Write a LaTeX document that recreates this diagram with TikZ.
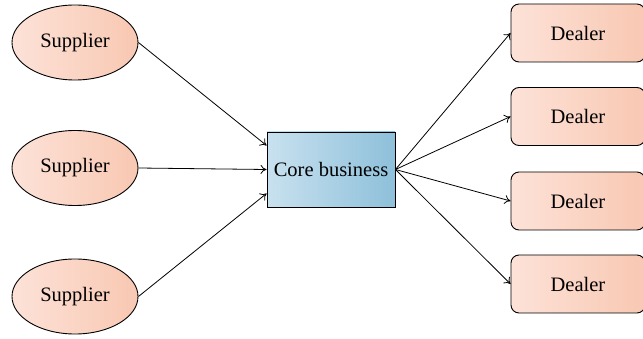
\documentclass[tikz,border=0pt]{standalone}
\usepackage{fontspec}
\setmainfont{Liberation Serif}
\usetikzlibrary{arrows.meta,shapes.geometric}
\definecolor{peachL}{HTML}{FDE2D8}
\definecolor{peachR}{HTML}{F8C8B2}
\definecolor{blueL}{HTML}{C8E1EF}
\definecolor{blueR}{HTML}{8EC0DA}
\tikzset{
  label font/.style={font=\fontsize{20.5}{24}\selectfont},
  supplier/.style={ellipse, draw=black, line width=0.9pt, left color=peachL, right color=peachR,
    minimum width=126pt, minimum height=75pt, inner sep=0pt, label font},
  core/.style={rectangle, draw=black, line width=0.9pt, left color=blueL, right color=blueR,
    minimum width=128pt, minimum height=75pt, inner sep=0pt, label font},
  dealer/.style={rectangle, rounded corners=8pt, draw=black, line width=0.9pt, left color=peachL, right color=peachR,
    minimum width=134pt, minimum height=58pt, inner sep=0pt, label font},
  link/.style={line width=0.8pt, -{To[length=6pt,width=9pt]}}
}
\begin{document}
\begin{tikzpicture}[x=1pt,y=-1pt]
\useasboundingbox (0,0) rectangle (643,339);
\node[supplier] (s1) at (75,42.5) {Supplier};
\node[supplier] (s2) at (75,168) {Supplier};
\node[supplier] (s3) at (75,296.5) {Supplier};
\node[core] (core) at (331,169.5) {Core business};
\node[dealer] (d1) at (578,33) {Dealer};
\node[dealer] (d2) at (578,116.5) {Dealer};
\node[dealer] (d3) at (578,201) {Dealer};
\node[dealer] (d4) at (578,284) {Dealer};
\draw[link] (s1.east) -- ([yshift=24pt]core.west);
\draw[link] (s2.east) -- (core.west);
\draw[link] (s3.east) -- ([yshift=-24pt]core.west);
\foreach \d in {d1,d2,d3,d4}
  \draw[link] (core.east) -- (\d.west);
\end{tikzpicture}
\end{document}
